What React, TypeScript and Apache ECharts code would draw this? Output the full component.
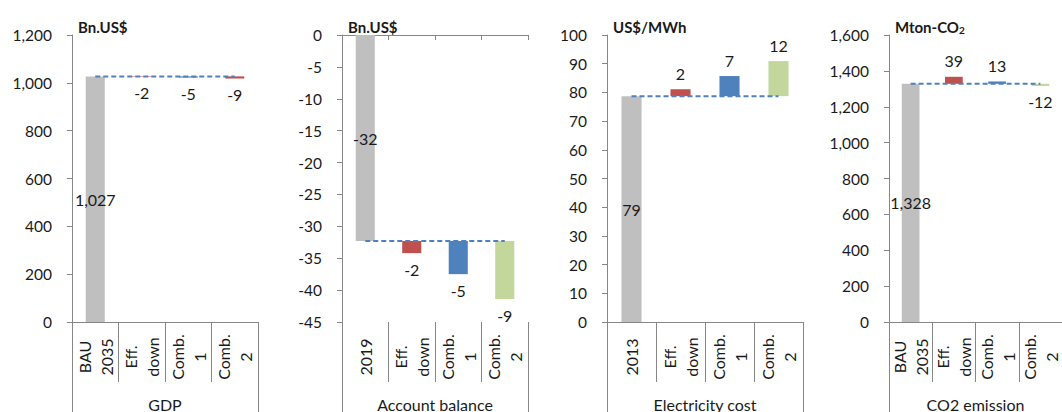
import React, { useEffect, useRef } from "react";
import * as echarts from "echarts";

// ---------- data ----------
const gdpCategories = ["BAU\n2035", "Eff.\ndown", "Comb.\n1", "Comb.\n2"];
const accountCategories = ["2019", "Eff.\ndown", "Comb.\n1", "Comb.\n2"];
const electricityCategories = ["2013", "Eff.\ndown", "Comb.\n1", "Comb.\n2"];
const co2Categories = ["BAU\n2035", "Eff.\ndown", "Comb.\n1", "Comb.\n2"];

const groupLabels = ["GDP", "Account balance", "Electricity cost", "CO2 emission"];
const unitLabels = ["Bn.US$", "Bn.US$", "US$/MWh", "Mton-CO{sub|2}"];

const gdpBase = 1027;
const gdpChanges = [-2, -5, -9];
const accountBase = -32.3;
const accountChanges = [-1.9, -5.2, -9.1];
const electricityBase = 78.7;
const electricityChanges = [2.4, 7.0, 12.2];
const co2Base = 1328;
const co2Changes = [39, 13, -12];

const yMins = [0, -45, 0, 0];
const yMaxs = [1200, 0, 100, 1600];
const yIntervals = [200, 5, 10, 200];

const GRAY = "#BFBFBF";
const RED = "#C0504D";
const BLUE = "#4F81BD";
const GREEN = "#C3D69B";
const gdpColors = [GRAY, RED, BLUE, RED];
const accountColors = [GRAY, RED, BLUE, GREEN];
const electricityColors = [GRAY, RED, BLUE, GREEN];
const co2Colors = [GRAY, RED, BLUE, GREEN];

// ---------- layout ----------
const gridLefts = [72, 342, 607, 889];
const gridWidths = [186, 186, 196, 187];
const GRID_TOP = 35;
const GRID_H = 287;
const AXIS_COLOR = "#868686";
const TEXT_COLOR = "#1a1a1a";
const FONT = "Lato";

const fmt = (v: number) => Math.round(v).toLocaleString("en-US");

export default function App() {
  const ref = useRef<HTMLDivElement>(null);

  useEffect(() => {
    if (!ref.current) return;
    const chart = echarts.init(ref.current, undefined, { renderer: "svg" });

    const panels = [
      { cats: gdpCategories, base: gdpBase, changes: gdpChanges, colors: gdpColors },
      { cats: accountCategories, base: accountBase, changes: accountChanges, colors: accountColors },
      { cats: electricityCategories, base: electricityBase, changes: electricityChanges, colors: electricityColors },
      { cats: co2Categories, base: co2Base, changes: co2Changes, colors: co2Colors },
    ];

    const grid: any[] = [];
    const xAxis: any[] = [];
    const yAxis: any[] = [];
    const series: any[] = [];

    panels.forEach((p, i) => {
      const negDomain = yMaxs[i] <= 0;
      grid.push({ left: gridLefts[i], top: GRID_TOP, width: gridWidths[i], height: GRID_H, containLabel: false });

      const innerIdx = xAxis.length;
      xAxis.push({
        type: "category",
        gridIndex: i,
        data: p.cats,
        position: "bottom",
        axisLine: { show: !negDomain, onZero: false, lineStyle: { color: AXIS_COLOR } },
        axisTick: { show: true, length: 60, interval: 0, alignWithLabel: false, lineStyle: { color: AXIS_COLOR } },
        axisLabel: {
          rotate: 90,
          interval: 0,
          margin: 35,
          align: "center",
          verticalAlign: "middle",
          lineHeight: 22,
          fontSize: 16,
          color: TEXT_COLOR,
          fontFamily: FONT,
        },
        splitLine: { show: false },
      });
      xAxis.push({
        type: "category",
        gridIndex: i,
        data: [groupLabels[i]],
        position: "bottom",
        axisLine: { show: false, onZero: false },
        axisTick: { show: true, length: 90, interval: 0, alignWithLabel: false, lineStyle: { color: AXIS_COLOR } },
        axisLabel: {
          interval: 0,
          margin: 74,
          fontSize: 16,
          color: TEXT_COLOR,
          fontFamily: FONT,
        },
        splitLine: { show: false },
      });
      if (negDomain) {
        xAxis.push({
          type: "category",
          gridIndex: i,
          data: p.cats,
          position: "top",
          axisLine: { show: true, onZero: false, lineStyle: { color: AXIS_COLOR } },
          axisTick: { show: true, inside: true, length: 5, interval: 0, alignWithLabel: false, lineStyle: { color: AXIS_COLOR } },
          axisLabel: { show: false },
          splitLine: { show: false },
        });
      }

      yAxis.push({
        type: "value",
        gridIndex: i,
        min: yMins[i],
        max: yMaxs[i],
        interval: yIntervals[i],
        name: unitLabels[i],
        nameLocation: "end",
        nameGap: 8,
        nameTextStyle: {
          align: "left",
          verticalAlign: "middle",
          fontWeight: "bold",
          fontSize: 15,
          color: TEXT_COLOR,
          fontFamily: FONT,
          padding: [0, 0, 0, 6],
          rich: {
            sub: { fontSize: 10, fontWeight: "bold", color: TEXT_COLOR, fontFamily: FONT, verticalAlign: "bottom", padding: [6, 0, 0, 0] },
          },
        },
        axisLine: { show: true, lineStyle: { color: AXIS_COLOR } },
        axisTick: { show: true, length: 5, lineStyle: { color: AXIS_COLOR } },
        axisLabel: {
          margin: 20,
          fontSize: 15.5,
          color: TEXT_COLOR,
          fontFamily: FONT,
          formatter: (v: number) => v.toLocaleString("en-US"),
        },
        splitLine: { show: false },
      });

      const helper: number[] = [0];
      const visible: any[] = [
        {
          value: p.base,
          itemStyle: { color: p.colors[0] },
          label: { position: "inside", formatter: fmt(p.base) },
        },
      ];
      p.changes.forEach((d, k) => {
        const a = p.base;
        const b = p.base + d;
        if (!negDomain) {
          helper.push(Math.min(a, b));
          visible.push({
            value: Math.abs(d),
            itemStyle: { color: p.colors[k + 1] },
            label: { position: d < 0 ? "bottom" : "top", formatter: fmt(d) },
          });
        } else {
          helper.push(Math.max(a, b));
          visible.push({
            value: -Math.abs(d),
            itemStyle: { color: p.colors[k + 1] },
            label: { position: d < 0 ? "bottom" : "top", formatter: fmt(d) },
          });
        }
      });

      series.push({
        type: "bar",
        xAxisIndex: innerIdx,
        yAxisIndex: i,
        stack: "s" + i,
        barWidth: "41%",
        silent: true,
        itemStyle: { color: "rgba(0,0,0,0)" },
        data: helper,
      });
      series.push({
        type: "bar",
        xAxisIndex: innerIdx,
        yAxisIndex: i,
        stack: "s" + i,
        barWidth: "41%",
        label: {
          show: true,
          distance: 8,
          fontSize: 16,
          color: TEXT_COLOR,
          fontFamily: FONT,
        },
        data: visible,
      });
      series.push({
        type: "line",
        xAxisIndex: innerIdx,
        yAxisIndex: i,
        symbol: "none",
        z: 5,
        lineStyle: { color: BLUE, width: 2, type: [5, 3] },
        data: p.cats.map(() => p.base),
      });
    });

    chart.setOption({
      animation: false,
      textStyle: { fontFamily: FONT },
      grid,
      xAxis,
      yAxis,
      series,
    });

    return () => chart.dispose();
  }, []);

  return (
    <div
      ref={ref}
      style={{ position: "absolute", left: 0, top: 0, width: 1062, height: 412, background: "#fff" }}
    />
  );
}
